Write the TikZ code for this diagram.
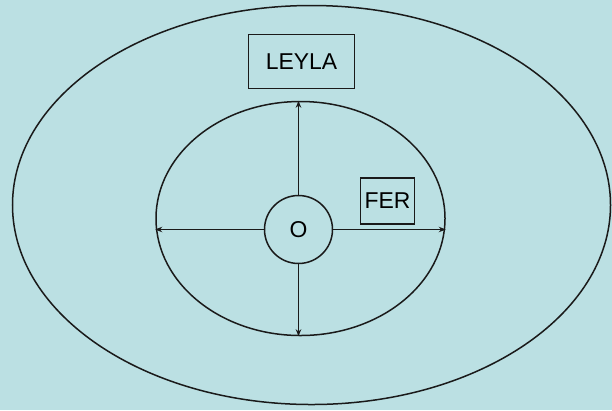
\documentclass[tikz,border=0pt]{standalone}
\usepackage{fontspec}
\setmainfont{Liberation Sans}
\usetikzlibrary{shapes.geometric,arrows.meta}
\definecolor{bgc}{HTML}{BBE0E3}
\definecolor{ln}{HTML}{1A1A1A}
\begin{document}
\begin{tikzpicture}[x=1bp,y=-1bp,
  every node/.style={font=\fontsize{23}{27}\selectfont, text=black, inner sep=0pt},
  ring/.style={draw=ln, line width=1.5bp, ellipse},
  lbl/.style={draw=ln, line width=1.5bp, rectangle},
  arr/.style={draw=ln, line width=1.5bp, -{Stealth[length=7bp,width=5.5bp]}}]
\fill[bgc] (0,0) rectangle (612,410);
\useasboundingbox (0,0) rectangle (612,410);
\node[ring, minimum width=598bp, minimum height=399bp] (outer) at (311.5,205) {};
\node[ring, minimum width=289bp, minimum height=234bp] (inner) at (300.5,218.5) {};
\node[draw=ln, line width=1.5bp, circle, minimum size=68bp] (O) at (298.5,229.5) {O};
\node[lbl, minimum width=106bp, minimum height=54bp] (leyla) at (301.5,61.5) {LEYLA};
\node[lbl, minimum width=54bp, minimum height=46bp] (fer) at (387.5,201) {FER};
\draw[arr] (O.north) -- (O.north |- inner.north);
\draw[arr] (O.south) -- (O.south |- inner.south);
\draw[arr] (O.west) -- (O.west -| inner.west);
\draw[arr] (O.east) -- (O.east -| inner.east);
\end{tikzpicture}
\end{document}
